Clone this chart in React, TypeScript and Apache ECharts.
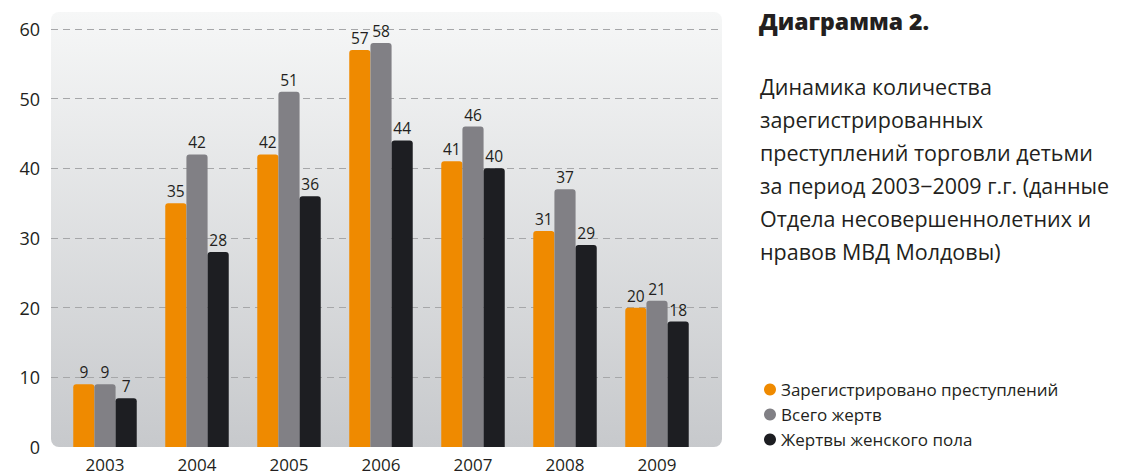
import React, { useEffect, useRef } from "react";
import * as echarts from "echarts";

const categories = ["2003", "2004", "2005", "2006", "2007", "2008", "2009"];
const registered = [9, 35, 42, 57, 41, 31, 20];
const victims = [9, 42, 51, 58, 46, 37, 21];
const female = [7, 28, 36, 44, 40, 29, 18];
const seriesNames = ["Зарегистрировано преступлений", "Всего жертв", "Жертвы женского пола"];
const colors = ["#ef8a00", "#818085", "#1d1e22"];
const titleText = "Диаграмма 2.";
const descText =
  "Динамика количества\nзарегистрированных\nпреступлений торговли детьми\nза период 2003−2009 г.г. (данные\nОтдела несовершеннолетних и\nнравов МВД Молдовы)";

const FONT = "'Open Sans', 'Noto Sans', sans-serif";
const TXT = "#231f20";

export default function App() {
  const ref = useRef<HTMLDivElement>(null);
  useEffect(() => {
    if (!ref.current) return;
    const chart = echarts.init(ref.current, null, { renderer: "svg" });
    const dataSets = [registered, victims, female];
    chart.setOption({
      animation: false,
      textStyle: { fontFamily: FONT },
      grid: [
        { left: 59, width: 644, top: 29, bottom: 28 },
        { left: 51, width: 671, top: 29, bottom: 28 },
      ],
      xAxis: [
        {
          type: "category",
          gridIndex: 0,
          data: categories,
          axisLine: { show: false },
          axisTick: { show: false },
          axisLabel: { fontSize: 17, color: TXT, margin: 9, fontFamily: FONT },
        },
        { type: "category", gridIndex: 1, data: categories, show: false },
      ],
      yAxis: [
        { type: "value", gridIndex: 0, min: 0, max: 60, interval: 10, show: false },
        {
          type: "value",
          gridIndex: 1,
          min: 0,
          max: 60,
          interval: 10,
          axisLine: { show: false },
          axisTick: { show: false },
          axisLabel: { fontSize: 18, color: TXT, margin: 11, fontFamily: FONT },
          splitLine: {
            show: true,
            showMinLine: false,
            lineStyle: { type: [7, 5], color: "#a6a7a9", width: 1 },
          },
        },
      ],
      legend: {
        orient: "vertical",
        left: 759,
        top: 376,
        icon: "circle",
        itemWidth: 12,
        itemHeight: 12,
        itemGap: 8,
        data: seriesNames,
        textStyle: { fontSize: 17, color: TXT, fontFamily: FONT },
      },
      graphic: [
        {
          type: "rect",
          z: -10,
          silent: true,
          shape: { x: 51, y: 12, width: 671, height: 435, r: 8 },
          style: {
            fill: new echarts.graphic.LinearGradient(0, 0, 0, 1, [
              { offset: 0, color: "#f6f7f7" },
              { offset: 1, color: "#c7c9cc" },
            ]),
          },
        },
        {
          type: "text",
          left: 759,
          top: 9,
          style: {
            text: titleText,
            fontSize: 23,
            fontWeight: 800,
            fill: TXT,
            fontFamily: FONT,
          },
        },
        {
          type: "text",
          left: 760,
          top: 70,
          style: {
            text: descText,
            fontSize: 21.5,
            lineHeight: 33,
            fill: TXT,
            fontFamily: FONT,
          },
        },
      ],
      series: dataSets.map((d, i) => ({
        name: seriesNames[i],
        type: "bar",
        xAxisIndex: 0,
        yAxisIndex: 0,
        data: d,
        barGap: "0%",
        barCategoryGap: "31%",
        itemStyle: { color: colors[i], borderRadius: [3, 3, 0, 0] },
        label: {
          show: true,
          position: "top",
          distance: 4,
          fontSize: 15.5,
          color: TXT,
          fontFamily: FONT,
        },
      })),
    });
    return () => chart.dispose();
  }, []);
  return (
    <div
      ref={ref}
      style={{ position: "fixed", left: 0, top: 0, width: 1141, height: 475, background: "#fff" }}
    />
  );
}
